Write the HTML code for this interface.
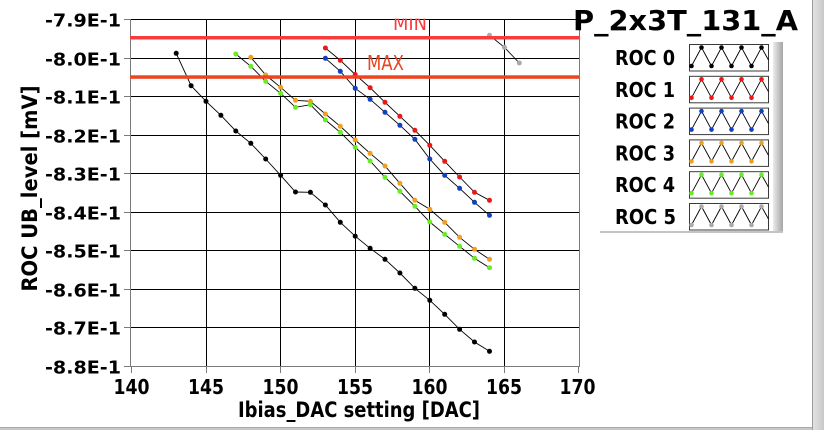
<!DOCTYPE html>
<html><head><meta charset="utf-8"><style>
html,body{margin:0;padding:0;background:#fff;}
svg{display:block;}
text{font-family:"DejaVu Sans","Liberation Sans",sans-serif;}
</style></head><body>
<svg width="824" height="430" viewBox="0 0 824 430" xmlns="http://www.w3.org/2000/svg">
<defs>
<clipPath id="plot"><rect x="130" y="18.6" width="450" height="348"/></clipPath>
<linearGradient id="sh" x1="0" x2="1" y1="0" y2="0"><stop offset="0" stop-color="#ececec"/><stop offset="1" stop-color="#a4a4a4"/></linearGradient>
<linearGradient id="bar" x1="0" x2="1" y1="0" y2="0"><stop offset="0" stop-color="#e4e4e4"/><stop offset="1" stop-color="#c8c8c8"/></linearGradient>
</defs>
<rect width="824" height="430" fill="#fff"/>

<!-- grid -->
<g stroke="#000" stroke-width="1" fill="none" shape-rendering="crispEdges">
<line x1="130" y1="19.5" x2="579" y2="19.5"/>
<line x1="130" y1="58.5" x2="579" y2="58.5"/>
<line x1="130" y1="96.5" x2="579" y2="96.5"/>
<line x1="130" y1="135.5" x2="579" y2="135.5"/>
<line x1="130" y1="173.5" x2="579" y2="173.5"/>
<line x1="130" y1="212.5" x2="579" y2="212.5"/>
<line x1="130" y1="250.5" x2="579" y2="250.5"/>
<line x1="130" y1="289.5" x2="579" y2="289.5"/>
<line x1="130" y1="327.5" x2="579" y2="327.5"/>
<line x1="206.5" y1="19" x2="206.5" y2="366"/>
<line x1="280.5" y1="19" x2="280.5" y2="366"/>
<line x1="355.5" y1="19" x2="355.5" y2="366"/>
<line x1="429.5" y1="19" x2="429.5" y2="366"/>
<line x1="504.5" y1="19" x2="504.5" y2="366"/>
</g>
<!-- borders & ticks -->
<g stroke="#7a7a7a" stroke-width="1" fill="none" shape-rendering="crispEdges">
<line x1="130.5" y1="19" x2="130.5" y2="367"/>
<line x1="130" y1="366.5" x2="580" y2="366.5"/>
<line x1="579.5" y1="19" x2="579.5" y2="367"/>
<line x1="124" y1="19.5" x2="130" y2="19.5"/>
<line x1="124" y1="58.5" x2="130" y2="58.5"/>
<line x1="124" y1="96.5" x2="130" y2="96.5"/>
<line x1="124" y1="135.5" x2="130" y2="135.5"/>
<line x1="124" y1="173.5" x2="130" y2="173.5"/>
<line x1="124" y1="212.5" x2="130" y2="212.5"/>
<line x1="124" y1="250.5" x2="130" y2="250.5"/>
<line x1="124" y1="289.5" x2="130" y2="289.5"/>
<line x1="124" y1="327.5" x2="130" y2="327.5"/>
<line x1="124" y1="366.5" x2="130" y2="366.5"/>
<line x1="131.5" y1="367" x2="131.5" y2="373"/>
<line x1="206.5" y1="367" x2="206.5" y2="373"/>
<line x1="280.5" y1="367" x2="280.5" y2="373"/>
<line x1="355.5" y1="367" x2="355.5" y2="373"/>
<line x1="429.5" y1="367" x2="429.5" y2="373"/>
<line x1="504.5" y1="367" x2="504.5" y2="373"/>
<line x1="578.5" y1="367" x2="578.5" y2="373"/>
</g>

<!-- data -->
<g clip-path="url(#plot)">
<g fill="none" stroke="#000" stroke-width="0.9">
<polyline points="176.2,53.3 191.1,85.7 206,101.3 220.9,115.3 235.8,131 250.8,143.3 265.7,159 280.6,175.3 295.5,192 310.4,192.3 325.4,205 340.3,222.3 355.2,236.2 370.1,248.3 385,259.3 399.9,273 414.9,288.3 429.8,300.3 444.7,314.3 459.6,329.3 474.5,342 489.5,351.3"/>
<polyline points="325.4,48 340.3,60.3 355.2,74.5 370.1,87.7 385,102.3 399.9,116.3 414.9,130.3 429.8,145.3 444.7,161.3 459.6,177 474.5,192.3 489.5,200.3"/>
<polyline points="325.4,58.3 340.3,71.3 355.2,88.3 370.1,99.3 385,112.3 399.9,125.3 414.9,139.3 429.8,159 444.7,175.3 459.6,188.3 474.5,202.3 489.5,215.3"/>
<polyline points="250.8,57.3 265.7,75 280.6,87.3 295.5,100.3 310.4,101.3 325.4,114 340.3,126.3 355.2,140 370.1,153.3 385,166 399.9,183.3 414.9,200.3 429.8,209.3 444.7,222.3 459.6,237.3 474.5,249.3 489.5,259.3"/>
<polyline points="235.8,54 250.8,66.3 265.7,81.3 280.6,93.3 295.5,107.3 310.4,104.7 325.4,120 340.3,132.3 355.2,147.3 370.1,161 385,177.3 399.9,191.3 414.9,206.3 429.8,222 444.7,234.3 459.6,246.3 474.5,258.3 489.5,267.7"/>
<polyline points="489.5,35.3 504.4,47.3 519.3,63"/>
</g>
<g fill="#000">
<circle cx="176.2" cy="53.3" r="2.5"/><circle cx="191.1" cy="85.7" r="2.5"/><circle cx="206" cy="101.3" r="2.5"/><circle cx="220.9" cy="115.3" r="2.5"/><circle cx="235.8" cy="131" r="2.5"/><circle cx="250.8" cy="143.3" r="2.5"/><circle cx="265.7" cy="159" r="2.5"/><circle cx="280.6" cy="175.3" r="2.5"/><circle cx="295.5" cy="192" r="2.5"/><circle cx="310.4" cy="192.3" r="2.5"/><circle cx="325.4" cy="205" r="2.5"/><circle cx="340.3" cy="222.3" r="2.5"/><circle cx="355.2" cy="236.2" r="2.5"/><circle cx="370.1" cy="248.3" r="2.5"/><circle cx="385" cy="259.3" r="2.5"/><circle cx="399.9" cy="273" r="2.5"/><circle cx="414.9" cy="288.3" r="2.5"/><circle cx="429.8" cy="300.3" r="2.5"/><circle cx="444.7" cy="314.3" r="2.5"/><circle cx="459.6" cy="329.3" r="2.5"/><circle cx="474.5" cy="342" r="2.5"/><circle cx="489.5" cy="351.3" r="2.5"/>
</g>
<g fill="#e81818">
<circle cx="325.4" cy="48" r="2.5"/><circle cx="340.3" cy="60.3" r="2.5"/><circle cx="355.2" cy="74.5" r="2.5"/><circle cx="370.1" cy="87.7" r="2.5"/><circle cx="385" cy="102.3" r="2.5"/><circle cx="399.9" cy="116.3" r="2.5"/><circle cx="414.9" cy="130.3" r="2.5"/><circle cx="429.8" cy="145.3" r="2.5"/><circle cx="444.7" cy="161.3" r="2.5"/><circle cx="459.6" cy="177" r="2.5"/><circle cx="474.5" cy="192.3" r="2.5"/><circle cx="489.5" cy="200.3" r="2.5"/>
</g>
<g fill="#1040c0">
<circle cx="325.4" cy="58.3" r="2.5"/><circle cx="340.3" cy="71.3" r="2.5"/><circle cx="355.2" cy="88.3" r="2.5"/><circle cx="370.1" cy="99.3" r="2.5"/><circle cx="385" cy="112.3" r="2.5"/><circle cx="399.9" cy="125.3" r="2.5"/><circle cx="414.9" cy="139.3" r="2.5"/><circle cx="429.8" cy="159" r="2.5"/><circle cx="444.7" cy="175.3" r="2.5"/><circle cx="459.6" cy="188.3" r="2.5"/><circle cx="474.5" cy="202.3" r="2.5"/><circle cx="489.5" cy="215.3" r="2.5"/>
</g>
<g fill="#f0a020">
<circle cx="250.8" cy="57.3" r="2.5"/><circle cx="265.7" cy="75" r="2.5"/><circle cx="280.6" cy="87.3" r="2.5"/><circle cx="295.5" cy="100.3" r="2.5"/><circle cx="310.4" cy="101.3" r="2.5"/><circle cx="325.4" cy="114" r="2.5"/><circle cx="340.3" cy="126.3" r="2.5"/><circle cx="355.2" cy="140" r="2.5"/><circle cx="370.1" cy="153.3" r="2.5"/><circle cx="385" cy="166" r="2.5"/><circle cx="399.9" cy="183.3" r="2.5"/><circle cx="414.9" cy="200.3" r="2.5"/><circle cx="429.8" cy="209.3" r="2.5"/><circle cx="444.7" cy="222.3" r="2.5"/><circle cx="459.6" cy="237.3" r="2.5"/><circle cx="474.5" cy="249.3" r="2.5"/><circle cx="489.5" cy="259.3" r="2.5"/>
</g>
<g fill="#66ee22">
<circle cx="235.8" cy="54" r="2.5"/><circle cx="250.8" cy="66.3" r="2.5"/><circle cx="265.7" cy="81.3" r="2.5"/><circle cx="280.6" cy="93.3" r="2.5"/><circle cx="295.5" cy="107.3" r="2.5"/><circle cx="310.4" cy="104.7" r="2.5"/><circle cx="325.4" cy="120" r="2.5"/><circle cx="340.3" cy="132.3" r="2.5"/><circle cx="355.2" cy="147.3" r="2.5"/><circle cx="370.1" cy="161" r="2.5"/><circle cx="385" cy="177.3" r="2.5"/><circle cx="399.9" cy="191.3" r="2.5"/><circle cx="414.9" cy="206.3" r="2.5"/><circle cx="429.8" cy="222" r="2.5"/><circle cx="444.7" cy="234.3" r="2.5"/><circle cx="459.6" cy="246.3" r="2.5"/><circle cx="474.5" cy="258.3" r="2.5"/><circle cx="489.5" cy="267.7" r="2.5"/>
</g>
<g fill="#aaaaaa">
<circle cx="489.5" cy="35.3" r="2.5"/><circle cx="504.4" cy="47.3" r="2.5"/><circle cx="519.3" cy="63" r="2.5"/>
</g>
<!-- limit lines -->
<rect x="130" y="36" width="449" height="3.5" fill="#f83c3c"/>
<rect x="130" y="75.3" width="449" height="3.5" fill="#ec4420"/>
<text x="393" y="30" font-size="20" fill="#f83c3c" textLength="34" lengthAdjust="spacingAndGlyphs" style="font-family:'DejaVu Sans',sans-serif">MIN</text>
<text x="367" y="70" font-size="20" fill="#ec4420" textLength="37" lengthAdjust="spacingAndGlyphs" style="font-family:'DejaVu Sans',sans-serif">MAX</text>
</g>

<!-- y tick labels -->
<g font-size="18" font-weight="bold" fill="#000" text-anchor="end">
<text x="121" y="26.7" textLength="76" lengthAdjust="spacingAndGlyphs">-7.9E-1</text>
<text x="121" y="65.5" textLength="76" lengthAdjust="spacingAndGlyphs">-8.0E-1</text>
<text x="121" y="103.7" textLength="76" lengthAdjust="spacingAndGlyphs">-8.1E-1</text>
<text x="121" y="142.5" textLength="76" lengthAdjust="spacingAndGlyphs">-8.2E-1</text>
<text x="121" y="180.7" textLength="76" lengthAdjust="spacingAndGlyphs">-8.3E-1</text>
<text x="121" y="219.5" textLength="76" lengthAdjust="spacingAndGlyphs">-8.4E-1</text>
<text x="121" y="257.7" textLength="76" lengthAdjust="spacingAndGlyphs">-8.5E-1</text>
<text x="121" y="296.5" textLength="76" lengthAdjust="spacingAndGlyphs">-8.6E-1</text>
<text x="121" y="334.7" textLength="76" lengthAdjust="spacingAndGlyphs">-8.7E-1</text>
<text x="121" y="373.5" textLength="76" lengthAdjust="spacingAndGlyphs">-8.8E-1</text>
</g>
<!-- x tick labels -->
<g font-size="20" font-weight="bold" fill="#000" text-anchor="middle">
<text x="131.5" y="394" textLength="36" lengthAdjust="spacingAndGlyphs">140</text>
<text x="206" y="394" textLength="36" lengthAdjust="spacingAndGlyphs">145</text>
<text x="280.5" y="394" textLength="36" lengthAdjust="spacingAndGlyphs">150</text>
<text x="355" y="394" textLength="36" lengthAdjust="spacingAndGlyphs">155</text>
<text x="429.5" y="394" textLength="36" lengthAdjust="spacingAndGlyphs">160</text>
<text x="504" y="394" textLength="36" lengthAdjust="spacingAndGlyphs">165</text>
<text x="577.5" y="394" textLength="36" lengthAdjust="spacingAndGlyphs">170</text>
</g>
<!-- axis titles -->
<text x="359" y="417" font-size="21" font-weight="bold" text-anchor="middle" textLength="242" lengthAdjust="spacingAndGlyphs">Ibias_DAC setting [DAC]</text>
<text transform="translate(37,188.5) rotate(-90)" x="0" y="0" font-size="21" font-weight="bold" text-anchor="middle" textLength="206" lengthAdjust="spacingAndGlyphs">ROC UB_level [mV]</text>

<!-- title -->
<text x="573" y="30" font-size="28" font-weight="bold" textLength="225" lengthAdjust="spacingAndGlyphs">P_2x3T_131_A</text>

<!-- legend panel -->
<rect x="773" y="42" width="10" height="191" fill="url(#sh)"/>
<rect x="600" y="231" width="183" height="2" fill="#c4c4c4"/>
<g font-size="20" font-weight="bold" fill="#000">
<text x="615" y="65" textLength="60" lengthAdjust="spacingAndGlyphs">ROC 0</text>
<text x="615" y="96.8" textLength="60" lengthAdjust="spacingAndGlyphs">ROC 1</text>
<text x="615" y="128.6" textLength="60" lengthAdjust="spacingAndGlyphs">ROC 2</text>
<text x="615" y="160.4" textLength="60" lengthAdjust="spacingAndGlyphs">ROC 3</text>
<text x="615" y="192.2" textLength="60" lengthAdjust="spacingAndGlyphs">ROC 4</text>
<text x="615" y="224" textLength="61" lengthAdjust="spacingAndGlyphs">ROC 5</text>
</g>
<g id="sw0">
<defs><clipPath id="c0"><rect x="689.5" y="44.5" width="79" height="26.5"/></clipPath></defs>
</g>
<g>
<!-- swatches: rows at y0 = 44.5 + 31.8*i -->
<g transform="translate(0,0)">
<rect x="689.5" y="44.5" width="79" height="26.5" fill="#fff" stroke="#3a3a3a"/>
<polyline fill="none" stroke="#000" stroke-width="0.9" points="689.5,66 691.5,66 701.5,47.5 711.5,66 721.5,47.5 731.5,66 741.5,47.5 751.5,66 761.5,47.5 768.5,60"/>
<g fill="#000"><circle cx="691.5" cy="66" r="2.3"/><circle cx="701.5" cy="47.5" r="2.3"/><circle cx="711.5" cy="66" r="2.3"/><circle cx="721.5" cy="47.5" r="2.3"/><circle cx="731.5" cy="66" r="2.3"/><circle cx="741.5" cy="47.5" r="2.3"/><circle cx="751.5" cy="66" r="2.3"/><circle cx="761.5" cy="47.5" r="2.3"/></g>
</g>
<g transform="translate(0,31.8)">
<rect x="689.5" y="44.5" width="79" height="26.5" fill="#fff" stroke="#3a3a3a"/>
<polyline fill="none" stroke="#000" stroke-width="0.9" points="689.5,66 691.5,66 701.5,47.5 711.5,66 721.5,47.5 731.5,66 741.5,47.5 751.5,66 761.5,47.5 768.5,60"/>
<g fill="#e81818"><circle cx="691.5" cy="66" r="2.3"/><circle cx="701.5" cy="47.5" r="2.3"/><circle cx="711.5" cy="66" r="2.3"/><circle cx="721.5" cy="47.5" r="2.3"/><circle cx="731.5" cy="66" r="2.3"/><circle cx="741.5" cy="47.5" r="2.3"/><circle cx="751.5" cy="66" r="2.3"/><circle cx="761.5" cy="47.5" r="2.3"/></g>
</g>
<g transform="translate(0,63.6)">
<rect x="689.5" y="44.5" width="79" height="26.5" fill="#fff" stroke="#3a3a3a"/>
<polyline fill="none" stroke="#000" stroke-width="0.9" points="689.5,66 691.5,66 701.5,47.5 711.5,66 721.5,47.5 731.5,66 741.5,47.5 751.5,66 761.5,47.5 768.5,60"/>
<g fill="#1040c0"><circle cx="691.5" cy="66" r="2.3"/><circle cx="701.5" cy="47.5" r="2.3"/><circle cx="711.5" cy="66" r="2.3"/><circle cx="721.5" cy="47.5" r="2.3"/><circle cx="731.5" cy="66" r="2.3"/><circle cx="741.5" cy="47.5" r="2.3"/><circle cx="751.5" cy="66" r="2.3"/><circle cx="761.5" cy="47.5" r="2.3"/></g>
</g>
<g transform="translate(0,95.4)">
<rect x="689.5" y="44.5" width="79" height="26.5" fill="#fff" stroke="#3a3a3a"/>
<polyline fill="none" stroke="#000" stroke-width="0.9" points="689.5,66 691.5,66 701.5,47.5 711.5,66 721.5,47.5 731.5,66 741.5,47.5 751.5,66 761.5,47.5 768.5,60"/>
<g fill="#f0a020"><circle cx="691.5" cy="66" r="2.3"/><circle cx="701.5" cy="47.5" r="2.3"/><circle cx="711.5" cy="66" r="2.3"/><circle cx="721.5" cy="47.5" r="2.3"/><circle cx="731.5" cy="66" r="2.3"/><circle cx="741.5" cy="47.5" r="2.3"/><circle cx="751.5" cy="66" r="2.3"/><circle cx="761.5" cy="47.5" r="2.3"/></g>
</g>
<g transform="translate(0,127.2)">
<rect x="689.5" y="44.5" width="79" height="26.5" fill="#fff" stroke="#3a3a3a"/>
<polyline fill="none" stroke="#000" stroke-width="0.9" points="689.5,66 691.5,66 701.5,47.5 711.5,66 721.5,47.5 731.5,66 741.5,47.5 751.5,66 761.5,47.5 768.5,60"/>
<g fill="#66ee22"><circle cx="691.5" cy="66" r="2.3"/><circle cx="701.5" cy="47.5" r="2.3"/><circle cx="711.5" cy="66" r="2.3"/><circle cx="721.5" cy="47.5" r="2.3"/><circle cx="731.5" cy="66" r="2.3"/><circle cx="741.5" cy="47.5" r="2.3"/><circle cx="751.5" cy="66" r="2.3"/><circle cx="761.5" cy="47.5" r="2.3"/></g>
</g>
<g transform="translate(0,159)">
<rect x="689.5" y="44.5" width="79" height="26.5" fill="#fff" stroke="#3a3a3a"/>
<polyline fill="none" stroke="#000" stroke-width="0.9" points="689.5,66 691.5,66 701.5,47.5 711.5,66 721.5,47.5 731.5,66 741.5,47.5 751.5,66 761.5,47.5 768.5,60"/>
<g fill="#aaaaaa"><circle cx="691.5" cy="66" r="2.3"/><circle cx="701.5" cy="47.5" r="2.3"/><circle cx="711.5" cy="66" r="2.3"/><circle cx="721.5" cy="47.5" r="2.3"/><circle cx="731.5" cy="66" r="2.3"/><circle cx="741.5" cy="47.5" r="2.3"/><circle cx="751.5" cy="66" r="2.3"/><circle cx="761.5" cy="47.5" r="2.3"/></g>
</g>
</g>

<!-- window chrome -->
<rect x="812" y="0" width="12" height="430" fill="url(#bar)"/>
<line x1="812.5" y1="0" x2="812.5" y2="430" stroke="#9c9c9c"/>
<rect x="0" y="427" width="812" height="3" fill="#c8c8c8"/>
<line x1="0" y1="427.5" x2="812" y2="427.5" stroke="#a8a8a8"/>
</svg>
</body></html>
